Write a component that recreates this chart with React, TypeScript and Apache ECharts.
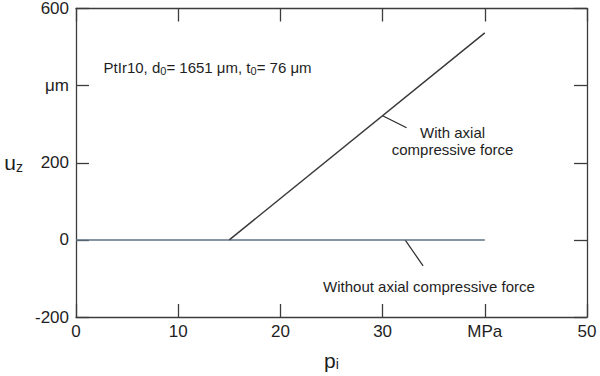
import React, { useEffect, useRef } from "react";
import * as echarts from "echarts";

const withP = [15, 40];
const withU = [0, 537];
const withoutP = [0, 40];
const withoutU = [0, 0];
const xTickLabels = ["0", "10", "20", "30", "MPa", "50"];
const yTickValues = [-200, 0, 200, 400, 600];
const yTickLabels = ["-200", "0", "200", "μm", "600"];

const FONT = "'Liberation Sans', Arial, Helvetica, sans-serif";
const AXIS_COLOR = "#3c3c3c";
const TEXT_COLOR = "#1e1e1e";

export default function App() {
  const ref = useRef<HTMLDivElement>(null);
  useEffect(() => {
    if (!ref.current) return;
    const chart = echarts.init(ref.current, null, { renderer: "svg" });
    const axisLine = { show: true, onZero: false, lineStyle: { color: AXIS_COLOR, width: 1.3 } };
    const tick = { show: true, inside: true, length: 13, lineStyle: { color: AXIS_COLOR, width: 1.3 } };
    const xBase = { type: "value" as const, min: 0, max: 50, interval: 10, splitLine: { show: false }, axisLine, axisTick: tick };
    const yBase = { type: "value" as const, min: -200, max: 600, interval: 200, splitLine: { show: false }, axisLine, axisTick: tick };
    const nameRich = {
      p: { fontSize: 21, fontFamily: FONT, color: TEXT_COLOR, lineHeight: 22 },
      s: { fontSize: 14, fontFamily: FONT, color: TEXT_COLOR, verticalAlign: "bottom", lineHeight: 12 },
    };
    chart.setOption({
      animation: false,
      backgroundColor: "#ffffff",
      grid: { left: 76, right: 13, top: 8, bottom: 51 },
      xAxis: [
        {
          ...xBase,
          position: "bottom",
          axisLabel: {
            color: TEXT_COLOR, fontSize: 17, fontFamily: FONT, margin: 6,
            formatter: (v: number) => xTickLabels[Math.round(v / 10)] ?? "",
          },
          name: "{p|p}{s|i}",
          nameLocation: "middle",
          nameGap: 32,
          nameTextStyle: { rich: nameRich },
        },
        { ...xBase, position: "top", axisLabel: { show: false } },
      ],
      yAxis: [
        {
          ...yBase,
          position: "left",
          axisLabel: {
            color: TEXT_COLOR, fontSize: 17, fontFamily: FONT, margin: 7,
            formatter: (v: number) => {
              const i = yTickValues.indexOf(v);
              return i >= 0 ? yTickLabels[i] : "";
            },
          },
          name: "{p|u}{s|z}",
          nameLocation: "middle",
          nameRotate: 0,
          nameGap: 53,
          nameTextStyle: { rich: nameRich },
        },
        { ...yBase, position: "right", axisLabel: { show: false } },
      ],
      series: [
        {
          type: "line",
          name: "Without axial compressive force",
          data: withoutP.map((p, i) => [p, withoutU[i]]),
          showSymbol: false,
          lineStyle: { color: "#5f7085", width: 1.5 },
        },
        {
          type: "line",
          name: "With axial compressive force",
          data: withP.map((p, i) => [p, withU[i]]),
          showSymbol: false,
          lineStyle: { color: "#3a3a3a", width: 1.5 },
        },
      ],
    });

    const a1 = chart.convertToPixel({ xAxisIndex: 0, yAxisIndex: 0 }, [30, 322]) as number[];
    const a2 = chart.convertToPixel({ xAxisIndex: 0, yAxisIndex: 0 }, [32.2, 0]) as number[];
    const t0 = chart.convertToPixel({ xAxisIndex: 0, yAxisIndex: 0 }, [2.7, 447]) as number[];
    const subRich = {
      a: { fontSize: 15, fontFamily: FONT, fill: TEXT_COLOR, lineHeight: 18 },
      s: { fontSize: 11, fontFamily: FONT, fill: TEXT_COLOR, verticalAlign: "bottom", lineHeight: 8 },
    };
    chart.setOption({
      graphic: [
        {
          type: "text",
          x: t0[0],
          y: t0[1],
          style: {
            text: "{a|PtIr10, d}{s|0}{a|= 1651 μm, t}{s|0}{a|= 76 μm}",
            rich: subRich,
            verticalAlign: "middle",
            align: "left",
          },
        },
        { type: "line", shape: { x1: a1[0], y1: a1[1], x2: a1[0] + 24, y2: a1[1] + 12 }, style: { stroke: "#2a2a2a", lineWidth: 1.2 } },
        {
          type: "text",
          x: a1[0] + 70,
          y: a1[1] + 8,
          style: {
            text: "With axial\ncompressive force",
            font: `15px ${FONT}`,
            fill: TEXT_COLOR,
            align: "center",
            verticalAlign: "top",
            lineHeight: 17,
          },
        },
        { type: "line", shape: { x1: a2[0], y1: a2[1], x2: a2[0] + 18, y2: a2[1] + 26 }, style: { stroke: "#2a2a2a", lineWidth: 1.2 } },
        {
          type: "text",
          x: a2[0] - 82,
          y: a2[1] + 47,
          style: {
            text: "Without axial compressive force",
            font: `15px ${FONT}`,
            fill: TEXT_COLOR,
            align: "left",
            verticalAlign: "middle",
          },
        },
      ],
    });
    return () => chart.dispose();
  }, []);
  return <div ref={ref} style={{ width: 600, height: 376, position: "absolute", left: 0, top: 0 }} />;
}
